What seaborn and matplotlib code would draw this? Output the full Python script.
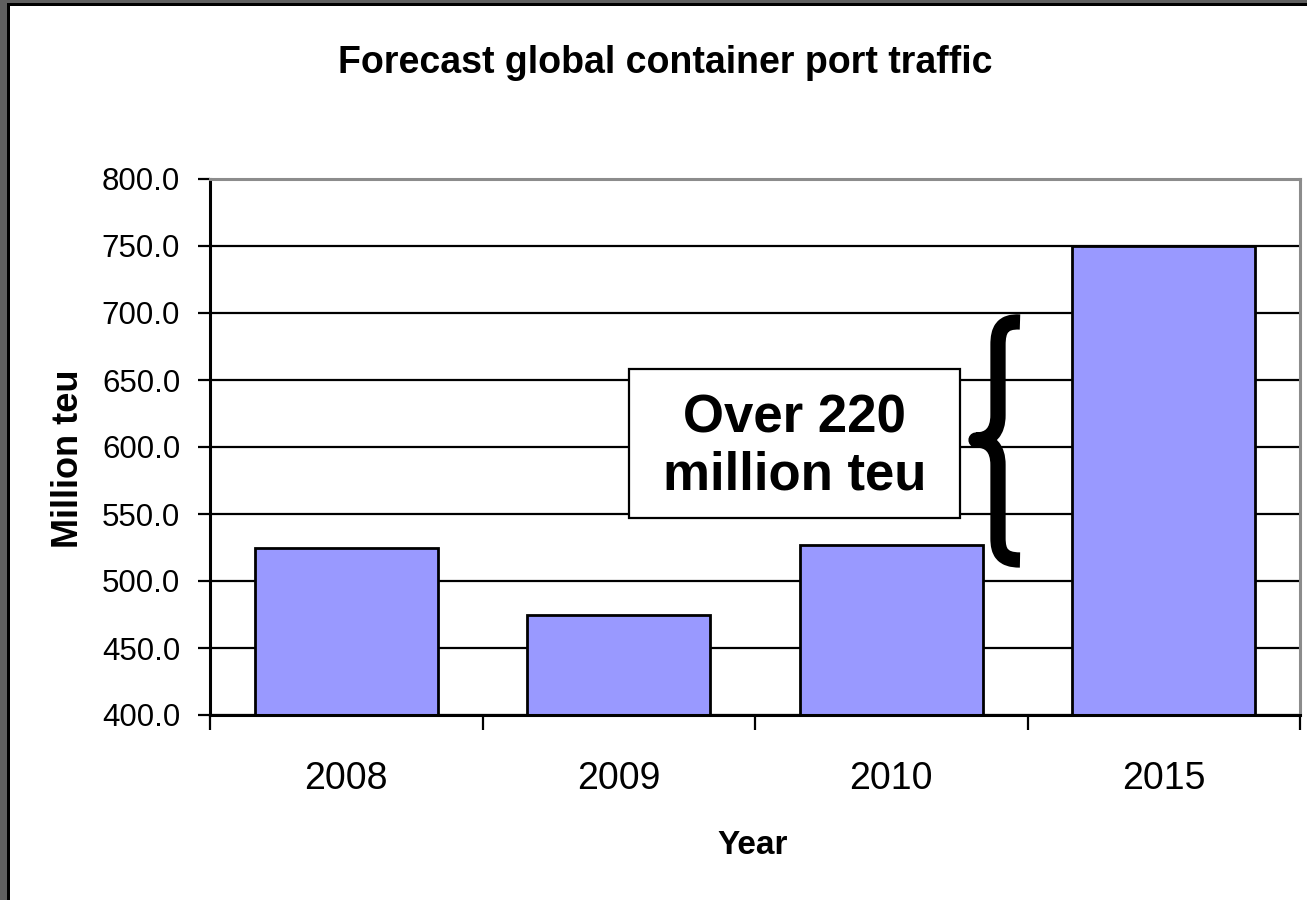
import matplotlib
matplotlib.use("Agg")
import matplotlib.pyplot as plt
import matplotlib.patches as mpatches
from matplotlib.path import Path
from matplotlib.transforms import Affine2D
from matplotlib.ticker import FormatStrFormatter
import pandas as pd
import seaborn as sns

# Forecast global container port traffic (million TEU)
years = ["2008", "2009", "2010", "2015"]
teu = [525.0, 475.0, 527.0, 750.0]
y_ticks = [400, 450, 500, 550, 600, 650, 700, 750, 800]

title = "Forecast global container port traffic"
x_label = "Year"
y_label = "Million teu"
callout = "Over 220\nmillion teu"

df = pd.DataFrame({"year": years, "teu": teu})

W, H = 1307, 900
sns.set_style("white")
plt.rcParams["font.family"] = ["Liberation Sans", "DejaVu Sans"]
plt.rcParams.update({"text.color": "black", "axes.labelcolor": "black",
                     "xtick.color": "black", "ytick.color": "black"})

fig = plt.figure(figsize=(W / 100, H / 100), dpi=100)
fig.patch.set_facecolor("white")
ax = fig.add_axes([210 / W, 1 - 715 / H, 1090 / W, 536 / H])

sns.barplot(data=df, x="year", y="teu", color="#9999FF", saturation=1,
            edgecolor="black", linewidth=2, width=0.67, ax=ax, zorder=3)

ax.set_ylim(400, 800)
ax.set_xlim(-0.5, len(years) - 0.5)
ax.set_yticks(y_ticks)
ax.yaxis.set_major_formatter(FormatStrFormatter("%.1f"))
ax.yaxis.grid(True, color="black", linewidth=1.6)
ax.xaxis.grid(False)
ax.set_axisbelow(True)

# spines: dark left/bottom, grey plot-area border top/right
for side in ("left", "bottom"):
    ax.spines[side].set_color("black")
    ax.spines[side].set_linewidth(2.2)
    ax.spines[side].set_zorder(5)
for side in ("top", "right"):
    ax.spines[side].set_color("#8c8c8c")
    ax.spines[side].set_linewidth(2.2)
    ax.spines[side].set_zorder(5)

ax.tick_params(axis="y", which="major", left=True, direction="out",
               length=8.5, width=1.6, pad=13, labelsize=22.5, colors="black")
ax.set_xticks([i - 0.5 for i in range(len(years) + 1)], minor=True)
ax.tick_params(axis="x", which="minor", bottom=True, direction="out",
               length=10.5, width=1.6, color="black")
ax.tick_params(axis="x", which="major", bottom=False, length=0, pad=33,
               labelsize=27, labelcolor="black")

ax.set_xlabel(x_label, fontsize=24, fontweight="bold")
ax.set_ylabel(y_label, fontsize=26, fontweight="bold")
ax.xaxis.set_label_coords(0.498, -0.214)
ax.yaxis.set_label_coords(-0.114, 0.478)

fig.text(665 / W, 1 - 73 / H, title, ha="center", va="baseline",
         fontsize=27, fontweight="bold")

# callout box
box = mpatches.Rectangle((0.3844, 0.3675), 0.3037, 0.278, transform=ax.transAxes,
                         facecolor="white", edgecolor="black", linewidth=1.6,
                         zorder=6)
ax.add_patch(box)
ax.text(0.536, 0.500, callout, transform=ax.transAxes, ha="center",
        va="center", fontsize=38, fontweight="bold", linespacing=1.2,
        zorder=7)

# curly brace spanning the growth to 2015 (figure pixel space, y down)
px = Affine2D().scale(1 / W, -1 / H).translate(0, 1) + fig.transFigure
verts = [
    (1020, 322), (1002, 321), (998, 330), (998, 345),
    (998, 415),
    (998, 432), (990, 440), (976, 440),
    (990, 440), (998, 448), (998, 465),
    (998, 538),
    (998, 552), (1002, 560), (1020, 560),
]
codes = [Path.MOVETO, Path.CURVE4, Path.CURVE4, Path.CURVE4,
         Path.LINETO,
         Path.CURVE4, Path.CURVE4, Path.CURVE4,
         Path.CURVE4, Path.CURVE4, Path.CURVE4,
         Path.LINETO,
         Path.CURVE4, Path.CURVE4, Path.CURVE4]
brace = mpatches.PathPatch(Path(verts, codes), transform=px, facecolor="none",
                           edgecolor="black", linewidth=11, capstyle="butt",
                           joinstyle="round", zorder=8)
fig.add_artist(brace)

# window frame on the left and top edges
fig.add_artist(mpatches.Rectangle((0, 0), 7, H, transform=px,
                                  facecolor="#606060", edgecolor="none"))
fig.add_artist(mpatches.Rectangle((0, 0), W, 3, transform=px,
                                  facecolor="#606060", edgecolor="none"))
fig.add_artist(mpatches.Rectangle((7, 3), 2.5, H, transform=px,
                                  facecolor="black", edgecolor="none"))
fig.add_artist(mpatches.Rectangle((7, 3), W, 2.5, transform=px,
                                  facecolor="black", edgecolor="none"))

fig.savefig("out.png", dpi=100)
